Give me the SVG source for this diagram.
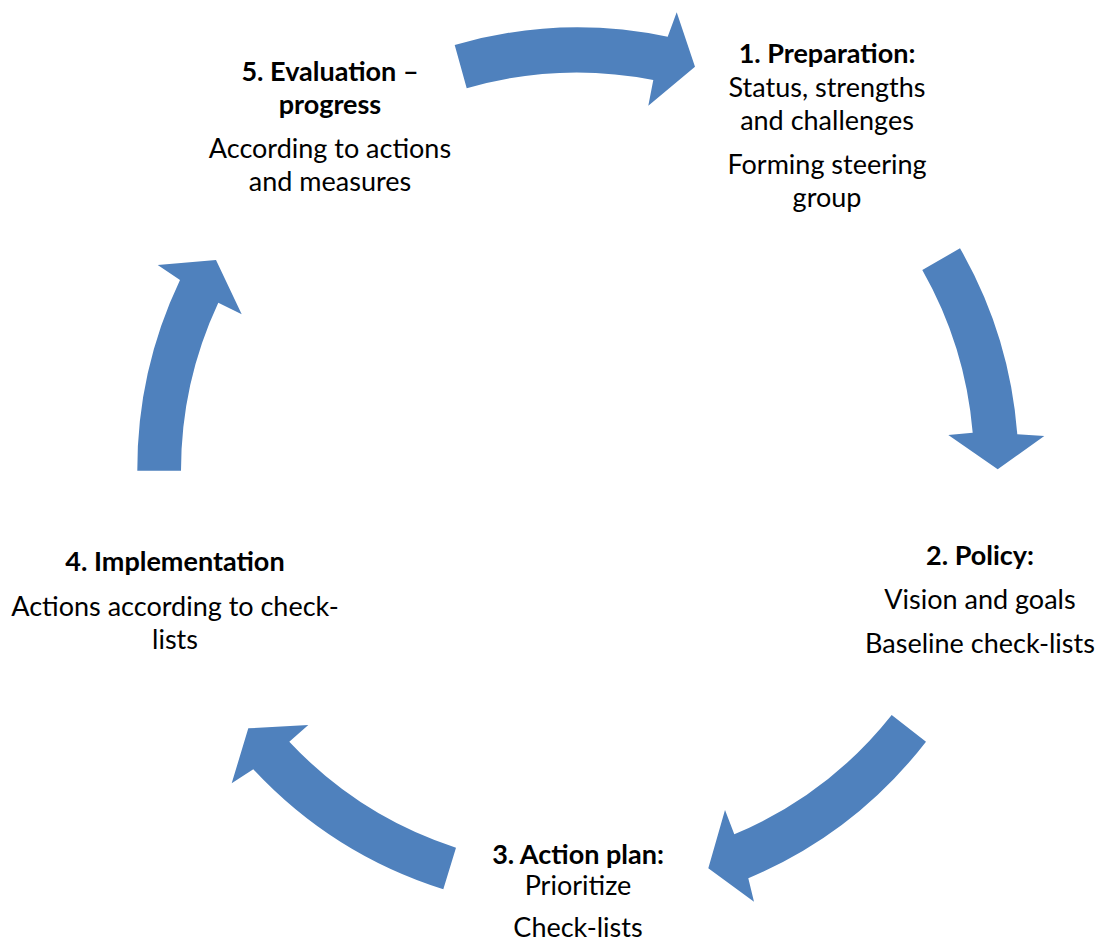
<svg xmlns="http://www.w3.org/2000/svg" width="1099" height="943" viewBox="0 0 1099 943">
<style>
.arr{fill:#4F81BD;stroke:none}
text{font-family:Lato,"Liberation Sans",sans-serif;font-size:27px;fill:#000;text-anchor:middle}
.h{font-weight:bold}
</style>
<rect width="1099" height="943" fill="#fff"/>
<g id="connectors">
<path class="arr" d="M454.7,45 A441,441 0 0 1 667.7,36.7 L676.7,12.3 L695,66.7 L648.3,105.7 L653.3,80 A397,397 0 0 0 466.7,88.3 Z"/>
<path class="arr" d="M960,248.3 A441,441 0 0 1 1017.3,434.3 L1044.3,436 L997.7,469.3 L948.3,435 L972.7,432.7 A397,397 0 0 0 922.3,270 Z"/>
<path class="arr" d="M926,741.7 A441,441 0 0 1 748.3,878.3 L754,901.7 L708.3,868.3 L725,810 L734.3,834.3 A397,397 0 0 0 891.7,715 Z"/>
<path class="arr" d="M443.3,889.3 A441,441 0 0 1 253.3,769.3 L231.7,783.3 L248.3,728.3 L308.3,725 L289.3,741.7 A397,397 0 0 0 456,847.7 Z"/>
<path class="arr" d="M137.3,470.7 A441,441 0 0 1 180,280 L157.7,265 L216,260 L241.7,314.3 L218.3,302.7 A397,397 0 0 0 181,470.7 Z"/>
</g>
<g id="node1">
<text class="h" x="827" y="63">1. Preparation:</text>
<text x="827" y="97">Status, strengths</text>
<text x="827" y="130">and challenges</text>
<text x="827" y="174">Forming steering</text>
<text x="827" y="207">group</text>
</g>
<g id="node2">
<text class="h" x="980" y="565">2. Policy:</text>
<text x="980" y="609">Vision and goals</text>
<text x="980" y="653">Baseline check-lists</text>
</g>
<g id="node3">
<text class="h" x="578" y="864">3. Action plan:</text>
<text x="578" y="895">Prioritize</text>
<text x="578" y="937">Check-lists</text>
</g>
<g id="node4">
<text class="h" x="175" y="571">4. Implementation</text>
<text x="175" y="616">Actions according to check-</text>
<text x="175" y="649">lists</text>
</g>
<g id="node5">
<text class="h" x="330" y="81">5. Evaluation –</text>
<text class="h" x="330" y="114">progress</text>
<text x="330" y="158">According to actions</text>
<text x="330" y="191">and measures</text>
</g>
</svg>
